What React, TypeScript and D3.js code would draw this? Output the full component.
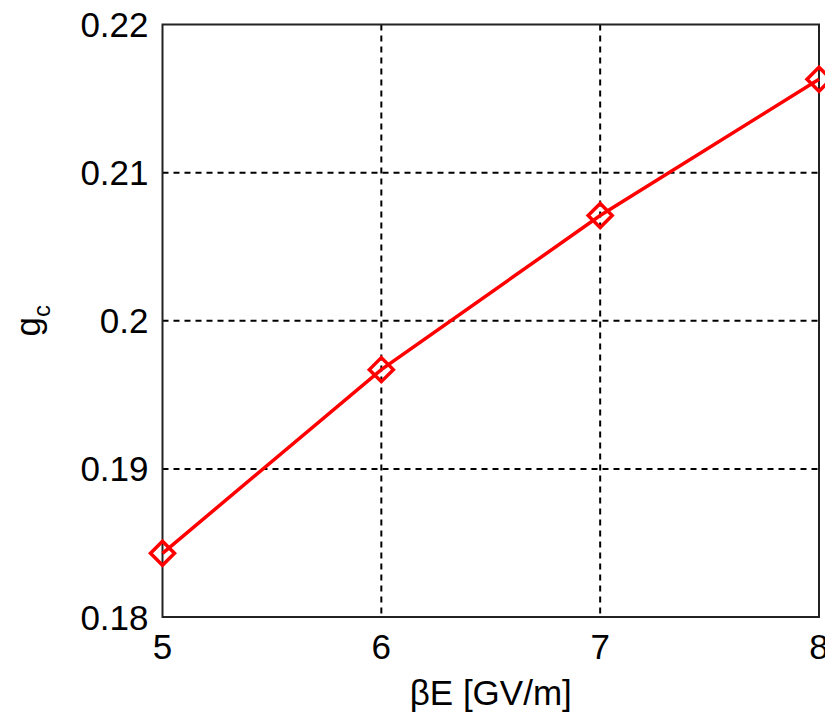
import React from "react";
import * as d3 from "d3";

const xTicks = [5, 6, 7, 8];
const yTicks = [0.18, 0.19, 0.2, 0.21, 0.22];
const yTickLabels = ["0.18", "0.19", "0.2", "0.21", "0.22"];
const fieldValues = [5, 6, 7, 8];
const gcValues = [0.1843, 0.1967, 0.2071, 0.2163];

const App = () => {
  const width = 825;
  const height = 718;
  const margin = { top: 24.5, right: 6, bottom: 101, left: 162.5 };
  const innerW = width - margin.left - margin.right;
  const innerH = height - margin.top - margin.bottom;

  const x = d3.scaleLinear().domain([5, 8]).range([0, innerW]);
  const y = d3.scaleLinear().domain([0.18, 0.22]).range([innerH, 0]);

  const line = d3
    .line<number>()
    .x((_, i) => x(fieldValues[i]))
    .y((d) => y(d));

  const font = "Arial, 'Liberation Sans', sans-serif";
  const r = 12;

  return (
    <svg
      width={width}
      height={height}
      style={{ display: "block", position: "absolute", left: 0, top: 0, background: "#fff" }}
    >
      <g transform={`translate(${margin.left},${margin.top})`}>
        {/* grid */}
        {xTicks.slice(1, -1).map((t) => (
          <line key={"gx" + t} x1={x(t)} x2={x(t)} y1={0} y2={innerH}
            stroke="#000" strokeWidth={2} strokeDasharray="6,5" />
        ))}
        {yTicks.slice(1, -1).map((t) => (
          <line key={"gy" + t} x1={0} x2={innerW} y1={y(t)} y2={y(t)}
            stroke="#000" strokeWidth={2} strokeDasharray="6,5" />
        ))}
        {/* box */}
        <rect x={0} y={0} width={innerW} height={innerH} fill="none" stroke="#222" strokeWidth={2} />
        {/* tick labels */}
        {xTicks.map((t) => (
          <text key={"tx" + t} x={x(t)} y={innerH + 42} textAnchor="middle"
            fontFamily={font} fontSize={35} fill="#000">{t}</text>
        ))}
        {yTicks.map((t, i) => (
          <text key={"ty" + t} x={-14} y={y(t)} dy="0.36em" textAnchor="end"
            fontFamily={font} fontSize={35} fill="#000">{yTickLabels[i]}</text>
        ))}
        {/* series */}
        <path d={line(gcValues) || ""} fill="none" stroke="#ff0000" strokeWidth={3.5} />
        {gcValues.map((v, i) => {
          const cx = x(fieldValues[i]);
          const cy = y(v);
          return (
            <path key={"m" + i}
              d={`M${cx},${cy - r}L${cx + r},${cy}L${cx},${cy + r}L${cx - r},${cy}Z`}
              fill="none" stroke="#ff0000" strokeWidth={3.5} />
          );
        })}
      </g>
      {/* axis titles */}
      <text x={margin.left + innerW / 2} y={705} textAnchor="middle"
        fontFamily={font} fontSize={35} fill="#000">βE [GV/m]</text>
      <text transform={`translate(40,${margin.top + innerH / 2}) rotate(-90)`} textAnchor="middle"
        fontFamily={font} fontSize={35} fill="#000">
        g<tspan fontSize={24} dy="10">c</tspan>
      </text>
    </svg>
  );
};

export default App;
